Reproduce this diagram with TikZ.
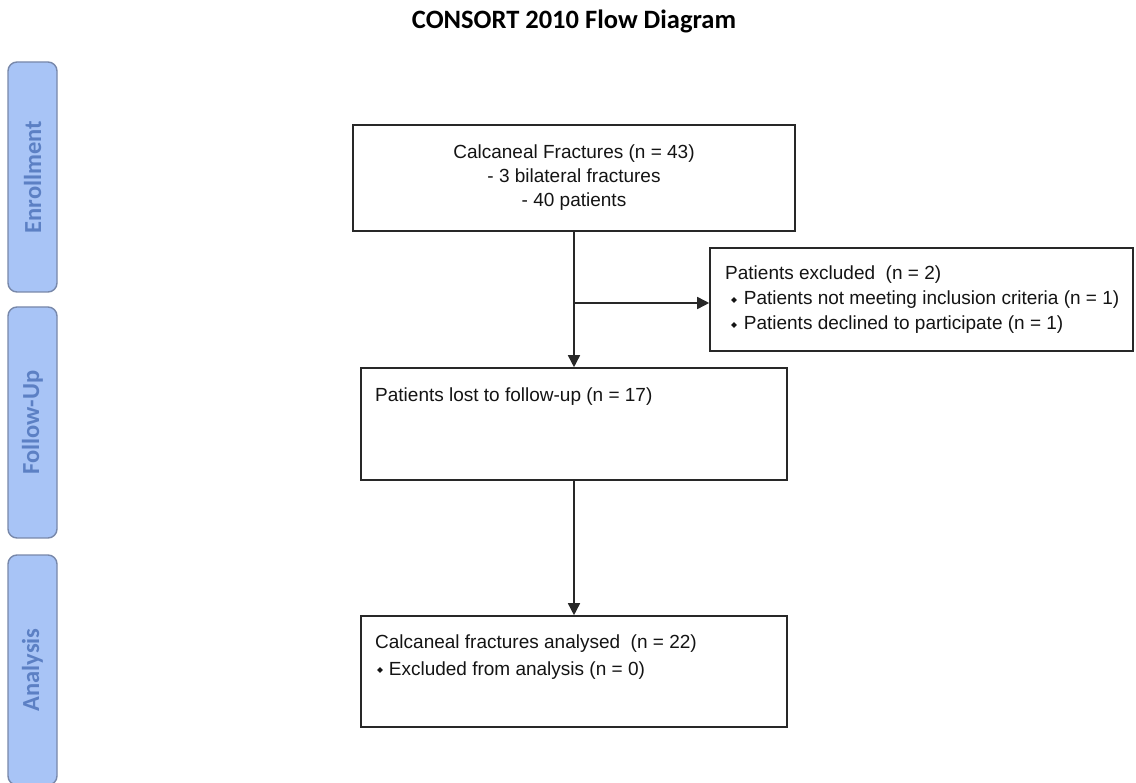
\documentclass[tikz,border=0pt]{standalone}
\usepackage{fontspec}
\setmainfont{Liberation Sans}
\newfontfamily\carlito{Carlito}
\usetikzlibrary{arrows.meta}
\definecolor{barfill}{RGB}{168,196,246}
\definecolor{barline}{RGB}{120,136,170}
\definecolor{bartext}{RGB}{92,128,196}
\definecolor{boxline}{RGB}{40,40,40}
\newcommand{\dmd}{\raisebox{2.2pt}{\rotatebox{45}{\rule{4pt}{4pt}}}}
\tikzset{
  bar/.style={draw=barline, fill=barfill, line width=1.4pt, rounded corners=9pt,
    rotate=90, minimum height=49pt, inner sep=0pt,
    font=\carlito\bfseries\fontsize{24.5}{28}\selectfont, text=bartext},
  fbox/.style={draw=boxline, line width=1.6pt, inner sep=0pt},
  txt/.style={inner sep=0pt, anchor=base west, font=\fontsize{19}{24}\selectfont, text=black!92},
  arr/.style={draw=boxline, line width=1.6pt, -{Triangle[width=12pt,length=12pt]}}
}
\begin{document}
\begin{tikzpicture}[x=1pt,y=1pt]
\useasboundingbox[fill=white] (0,0) rectangle (1136,-783);
% title
\node[inner sep=0pt, anchor=base, font=\carlito\bfseries\fontsize{26.5}{30}\selectfont] (title) at (574,-29) {CONSORT 2010 Flow Diagram};
% side bars
\node[bar, minimum width=230pt] (enr) at (32.5,-177) {Enrollment};
\node[bar, minimum width=231pt] (fol) at (32.5,-422.5) {Follow-Up};
\node[bar, minimum width=230pt] (ana) at (32.5,-670) {Analysis};
% boxes
\node[fbox, minimum width=442pt, minimum height=106pt, align=center,
  font=\fontsize{19}{24}\selectfont, text=black!92] (b1) at (574,-178)
  {Calcaneal Fractures (n = 43)\\- 3 bilateral fractures\\- 40 patients};
\node[fbox, minimum width=423pt, minimum height=103pt] (ex) at (921.5,-299.5) {};
\node[fbox, minimum width=426pt, minimum height=112pt] (b2) at (574,-424) {};
\node[fbox, minimum width=426pt, minimum height=111pt] (b3) at (574,-671.5) {};
% texts
\node[txt] (ex1) at (725,-280) {Patients excluded\ \ (n = 2)};
\node[txt] (ex2) at (731,-305) {\dmd\hspace{7pt}Patients not meeting inclusion criteria (n = 1)};
\node[txt] (ex3) at (731,-330) {\dmd\hspace{7pt}Patients declined to participate (n = 1)};
\node[txt] (b2t) at (375,-402) {Patients lost to follow-up (n = 17)};
\node[txt] (b31) at (375,-648) {Calcaneal fractures analysed\ \ (n = 22)};
\node[txt] (b32) at (377,-675) {\dmd\hspace{6pt}Excluded from analysis (n = 0)};
% connectors
\coordinate (br) at ([yshift=-3.5pt]ex.west);
\draw[arr] (b1.south) -- (b2.north);
\draw[arr] (b1.south |- br) -- (br);
\draw[arr] (b2.south) -- (b3.north);
\end{tikzpicture}
\end{document}
